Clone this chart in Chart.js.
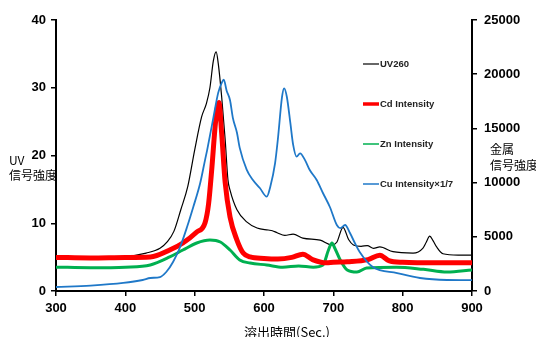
<!DOCTYPE html>
<html lang="ja">
<head>
<meta charset="UTF-8">
<title>溶出時間と信号強度</title>
<script src="https://cdn.jsdelivr.net/npm/chart.js"></script>
<style>
  body { margin: 0; background: #fff; }
  #wrap { width: 536px; height: 337px; }
</style>
</head>
<body>
<div id="wrap"><canvas id="elutionChart" width="536" height="337"></canvas></div>
<script>
// values (time in Sec.)
const uvTime   = [300, 350, 400, 430, 450, 460, 470, 480, 490, 500, 510, 517, 522, 527, 531, 534, 539, 544, 548, 551, 561, 575, 590, 606, 612, 619, 630, 642, 656, 681, 698, 705, 714, 722, 729, 740, 749, 758, 767, 786, 815, 829, 834, 839, 844, 849, 858, 880, 900];
const uvSignal = [5.1, 5.0, 5.1, 5.6, 6.3, 7.2, 8.8, 12, 15.4, 20.8, 25.7, 27.7, 30, 34, 35.3, 33.6, 28.6, 22.3, 16.4, 14.9, 12, 10.2, 9.3, 9.0, 8.9, 8.6, 8.2, 8.4, 7.8, 7.5, 6.8, 7.2, 9.4, 7.6, 6.8, 6.6, 6.7, 6.3, 6.5, 5.8, 5.6, 6.3, 7.2, 8.1, 7.4, 6.5, 5.5, 5.3, 5.3];

const cdTime   = [300, 350, 400, 436, 464, 483, 503, 515, 520, 525, 530, 535, 539, 544, 551, 561, 570, 580, 600, 620, 640, 656, 670, 690, 700, 720, 750, 767, 780, 800, 850, 900];
const cdSignal = [3100, 3050, 3100, 3140, 3780, 4430, 5440, 6300, 8000, 11500, 15500, 17400, 14500, 10000, 6830, 4700, 3500, 3140, 3000, 2950, 3100, 3400, 2900, 2600, 2650, 2700, 2900, 3300, 2800, 2650, 2600, 2600];

const znTime   = [300, 350, 400, 436, 464, 483, 503, 522, 537, 551, 565, 580, 604, 627, 650, 671, 685, 693, 698, 702, 710, 720, 734, 748, 791, 830, 864, 900];
const znSignal = [2200, 2150, 2200, 2400, 3140, 3780, 4430, 4700, 4520, 3780, 2860, 2580, 2400, 2200, 2300, 2200, 2400, 3780, 4430, 3970, 2860, 1940, 1750, 2120, 2200, 2000, 1750, 1940];

const cuTime   = [300, 350, 397, 425, 436, 450, 459, 469, 479, 489, 498, 508, 515, 518, 527, 534, 539, 542, 546, 551, 555, 561, 565, 575, 584, 594, 604, 609, 616, 620, 626, 629, 633, 638, 642, 647, 652, 659, 666, 676, 685, 695, 705, 710, 717, 724, 731, 738, 757, 792, 825, 864, 900];
const cuSignal = [370, 500, 740, 1015, 1200, 1290, 1750, 2700, 4060, 5900, 7750, 9960, 12100, 13000, 16000, 18300, 19200, 19500, 18500, 17600, 16000, 14600, 13200, 11200, 10240, 9500, 8700, 9600, 11800, 14000, 17900, 18700, 17900, 15500, 13500, 12400, 12700, 12100, 11160, 10240, 9040, 7750, 6090, 5800, 6090, 5350, 4430, 3600, 2210, 1660, 1200, 1015, 1000];

const seriesLabels = ['UV260', 'Cd Intensity', 'Zn Intensity', 'Cu Intensity×1/7'];
const seriesColors = ['#000000', '#ff0000', '#00b050', '#1f78c8'];
const leftTitle = ['UV', '信号強度'];
const rightTitle = ['金属', '信号強度'];
const xTitle = '溶出時間(Sec.)';

function toPoints(xs, ys) {
    return xs.map((x, i) => ({ x: x, y: ys[i] }));
}

const tickFont = { family: 'Liberation Sans', size: 13, weight: 'bold' };

// axis titles and the in-plot legend
const chartText = {
    id: 'chartText',
    afterDraw(chart) {
        const ctx = chart.ctx;
        ctx.save();
        ctx.fillStyle = '#000';
        ctx.textBaseline = 'middle';
        ctx.textAlign = 'left';
        ctx.font = '12px "Noto Sans CJK JP"';
        ctx.fillText(leftTitle[0], 9, 160);
        ctx.fillText(leftTitle[1], 9, 175);
        ctx.fillText(rightTitle[0], 490, 149);
        ctx.fillText(rightTitle[1], 490, 165);
        ctx.font = '13px "Noto Sans CJK JP"';
        ctx.textAlign = 'center';
        ctx.fillText(xTitle, 287, 332);

        // legend
        const widths = [1.2, 3.5, 1.5, 1.5];
        ctx.font = 'bold 9.5px "Liberation Sans"';
        ctx.textAlign = 'left';
        chart.data.datasets.forEach((ds, i) => {
            const y = 64 + i * 40;
            ctx.strokeStyle = ds.borderColor;
            ctx.lineWidth = widths[i];
            ctx.beginPath();
            ctx.moveTo(363, y);
            ctx.lineTo(379, y);
            ctx.stroke();
            ctx.fillStyle = '#222';
            ctx.fillText(ds.label, 380, y);
        });
        ctx.restore();
    }
};

const ctx = document.getElementById('elutionChart').getContext('2d');
new Chart(ctx, {
    type: 'line',
    data: {
        datasets: [
            { label: seriesLabels[0], data: toPoints(uvTime, uvSignal), yAxisID: 'y',
              borderColor: seriesColors[0], borderWidth: 1.2, order: 4 },
            { label: seriesLabels[1], data: toPoints(cdTime, cdSignal), yAxisID: 'y2',
              borderColor: seriesColors[1], borderWidth: 5, order: 2 },
            { label: seriesLabels[2], data: toPoints(znTime, znSignal), yAxisID: 'y2',
              borderColor: seriesColors[2], borderWidth: 3, order: 3 },
            { label: seriesLabels[3], data: toPoints(cuTime, cuSignal), yAxisID: 'y2',
              borderColor: seriesColors[3], borderWidth: 1.8, order: 1 }
        ]
    },
    options: {
        responsive: false,
        animation: false,
        layout: { padding: { top: 20, left: 0, right: 0, bottom: 0 } },
        elements: {
            point: { radius: 0 },
            line: { cubicInterpolationMode: 'monotone', fill: false }
        },
        plugins: {
            legend: { display: false },
            tooltip: { enabled: false }
        },
        scales: {
            x: {
                type: 'linear',
                min: 300,
                max: 900,
                ticks: { stepSize: 100, font: tickFont, color: '#000', padding: 5, maxRotation: 0 },
                grid: { drawOnChartArea: false, drawTicks: true, tickLength: 5, color: '#000', lineWidth: 1.5 },
                border: { color: '#000', width: 2 },
                afterFit(scale) { scale.height = 46; }
            },
            y: {
                position: 'left',
                min: 0,
                max: 40,
                ticks: { stepSize: 10, font: tickFont, color: '#000', padding: 5 },
                grid: { drawOnChartArea: false, drawTicks: true, tickLength: 5, color: '#000', lineWidth: 1.5 },
                border: { color: '#000', width: 2 },
                afterFit(scale) { scale.width = 56; }
            },
            y2: {
                position: 'right',
                min: 0,
                max: 25000,
                ticks: { stepSize: 5000, font: tickFont, color: '#000', padding: 7,
                         callback: (v) => String(v) },
                grid: { drawOnChartArea: false, drawTicks: true, tickLength: 5, color: '#000', lineWidth: 1.5 },
                border: { color: '#000', width: 2 },
                afterFit(scale) { scale.width = 64; }
            }
        }
    },
    plugins: [chartText]
});
</script>
</body>
</html>
